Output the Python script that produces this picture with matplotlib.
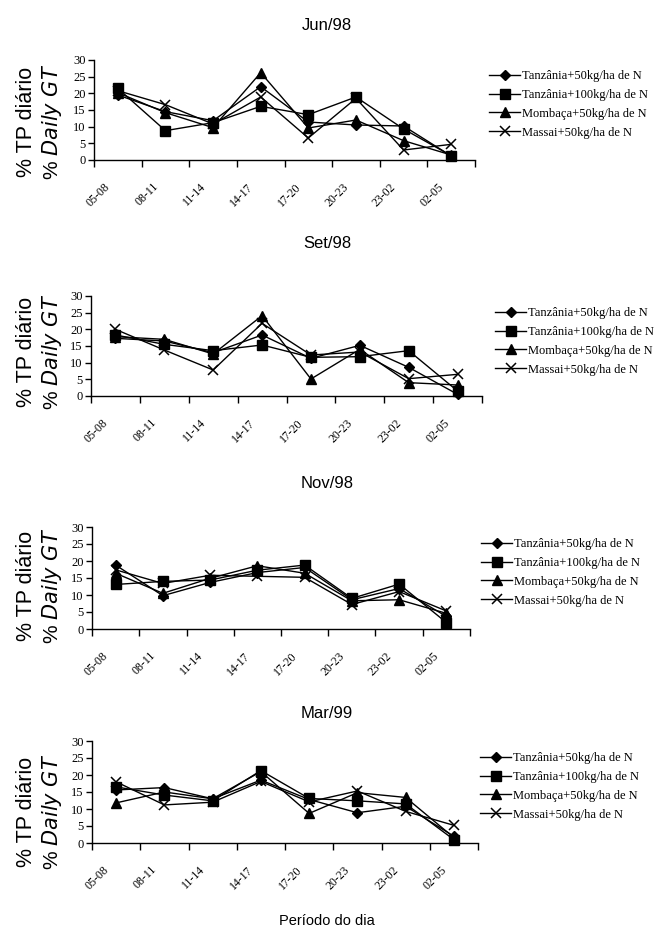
import matplotlib
matplotlib.use("Agg")
import matplotlib.pyplot as plt
import matplotlib.transforms as mtransforms
import numpy as np

# ---------------- data ----------------
periods = ["05-08", "08-11", "11-14", "14-17", "17-20", "20-23", "23-02", "02-05"]
series_names = ["Tanzânia+50kg/ha de N", "Tanzânia+100kg/ha de N",
                "Mombaça+50kg/ha de N", "Massai+50kg/ha de N"]
month_titles = ["Jun/98", "Set/98", "Nov/98", "Mar/99"]

jun_t50 = [19.5, 14.5, 11.8, 22.0, 11.4, 10.5, 10.2, 1.2]
jun_t100 = [21.5, 8.8, 11.2, 16.1, 13.6, 18.9, 9.3, 1.3]
jun_mom = [20.2, 14.2, 9.7, 26.2, 9.6, 12.0, 5.8, 1.5]
jun_mas = [20.8, 16.6, 10.8, 18.9, 6.6, 18.5, 3.0, 4.7]

set_t50 = [17.3, 16.5, 13.0, 18.3, 11.3, 15.2, 8.6, 0.5]
set_t100 = [18.3, 15.5, 13.6, 15.3, 11.6, 11.8, 13.6, 1.5]
set_mom = [17.8, 17.0, 12.6, 24.1, 5.1, 14.0, 4.0, 3.3]
set_mas = [20.0, 13.8, 7.8, 21.8, 12.3, 13.2, 5.2, 6.5]

nov_t50 = [18.8, 9.8, 13.7, 16.6, 18.1, 8.6, 11.9, 3.7]
nov_t100 = [13.1, 14.0, 14.4, 17.3, 18.8, 9.0, 13.2, 1.9]
nov_mom = [16.4, 10.5, 14.9, 18.6, 16.4, 8.3, 8.6, 4.6]
nov_mas = [17.4, 13.4, 15.8, 15.5, 15.2, 7.2, 11.0, 5.3]

mar_t50 = [15.6, 16.3, 13.0, 18.5, 12.8, 8.9, 10.8, 2.0]
mar_t100 = [16.5, 14.1, 12.4, 21.3, 13.1, 12.4, 11.5, 1.0]
mar_mom = [11.8, 15.0, 13.0, 21.0, 8.7, 14.8, 13.4, 1.6]
mar_mas = [18.0, 11.2, 12.0, 18.1, 12.1, 15.3, 9.3, 5.2]

panels = [
    [jun_t50, jun_t100, jun_mom, jun_mas],
    [set_t50, set_t100, set_mom, set_mas],
    [nov_t50, nov_t100, nov_mom, nov_mas],
    [mar_t50, mar_t100, mar_mom, mar_mas],
]

yticks = [0, 5, 10, 15, 20, 25, 30]

# ---------------- layout ----------------
W, H = 654, 943
fig = plt.figure(figsize=(W / 100, H / 100), dpi=100)

# axes boxes in pixels: left, right, top, bottom
boxes = [(94, 475, 60, 160), (91, 482, 296, 396), (92, 470, 527, 629), (92, 478, 741, 843)]
title_y = [26, 244, 484, 714]
ylabel_y = [122, 352, 586, 812]
legend_pos = [(489, 70), (495, 307), (481, 538), (480, 752)]

markers = [dict(marker="D", ms=5.5), dict(marker="s", ms=6.5),
           dict(marker="^", ms=7), dict(marker="x", ms=7, mew=1.1)]

serif = "Liberation Serif"
sans = "Liberation Sans"

for i, (vals, box) in enumerate(zip(panels, boxes)):
    l, r, t, b = box
    ax = fig.add_axes([l / W, 1 - b / H, (r - l) / W, (b - t) / H])
    x = np.arange(len(periods)) + 0.5
    handles = []
    for s, name, mk in zip(vals, series_names, markers):
        h, = ax.plot(x, s, color="black", lw=1.0, mfc="black", mec="black",
                     label=name, clip_on=False, **mk)
        handles.append(h)
    ax.set_xlim(0, len(periods))
    ax.set_ylim(0, 30)
    ax.set_yticks(yticks)
    ax.set_yticklabels([str(v) for v in yticks], fontsize=9, family=serif)
    ax.tick_params(axis="y", length=4, width=1, direction="out", pad=2)
    # major ticks at category boundaries, labels at centers
    ax.set_xticks(np.arange(len(periods) + 1))
    ax.set_xticklabels([])
    ax.tick_params(axis="x", which="major", length=5, width=1, direction="out")
    ax.set_xticks(x, minor=True)
    ax.set_xticklabels(periods, minor=True, rotation=45, ha="right", va="top",
                       fontsize=8.5, family=serif)
    ax.tick_params(axis="x", which="minor", length=0, pad=15)
    offset = mtransforms.ScaledTranslation(-5 / 100, 0, fig.dpi_scale_trans)
    for lab in ax.get_xticklabels(minor=True):
        lab.set_transform(lab.get_transform() + offset)
    for sp in ["top", "right"]:
        ax.spines[sp].set_visible(False)
    for sp in ["left", "bottom"]:
        ax.spines[sp].set_linewidth(1.0)

    fig.text(327 / W, 1 - title_y[i] / H, month_titles[i], ha="center", va="center",
             fontsize=12, family=sans)
    yc = 1 - ylabel_y[i] / H
    fig.text(27 / W, yc, "% TP diário", rotation=90, ha="center", va="center",
             fontsize=15.5, family=sans)
    fig.text(52 / W, yc, "% $\\it{Daily\\ GT}$", rotation=90, ha="center", va="center",
             fontsize=15, family=sans)

    lx, ly = legend_pos[i]
    fig.legend(handles=handles, loc="upper left",
               bbox_to_anchor=(lx / W, 1 - ly / H), frameon=False,
               prop={"family": serif, "size": 9}, handlelength=2.5,
               handletextpad=0.15, labelspacing=0.55, borderaxespad=0,
               borderpad=0)

fig.text(327 / W, 1 - 921 / H, "Período do dia", ha="center", va="center",
         fontsize=10.5, family=sans)

fig.savefig("out.png", dpi=100)
